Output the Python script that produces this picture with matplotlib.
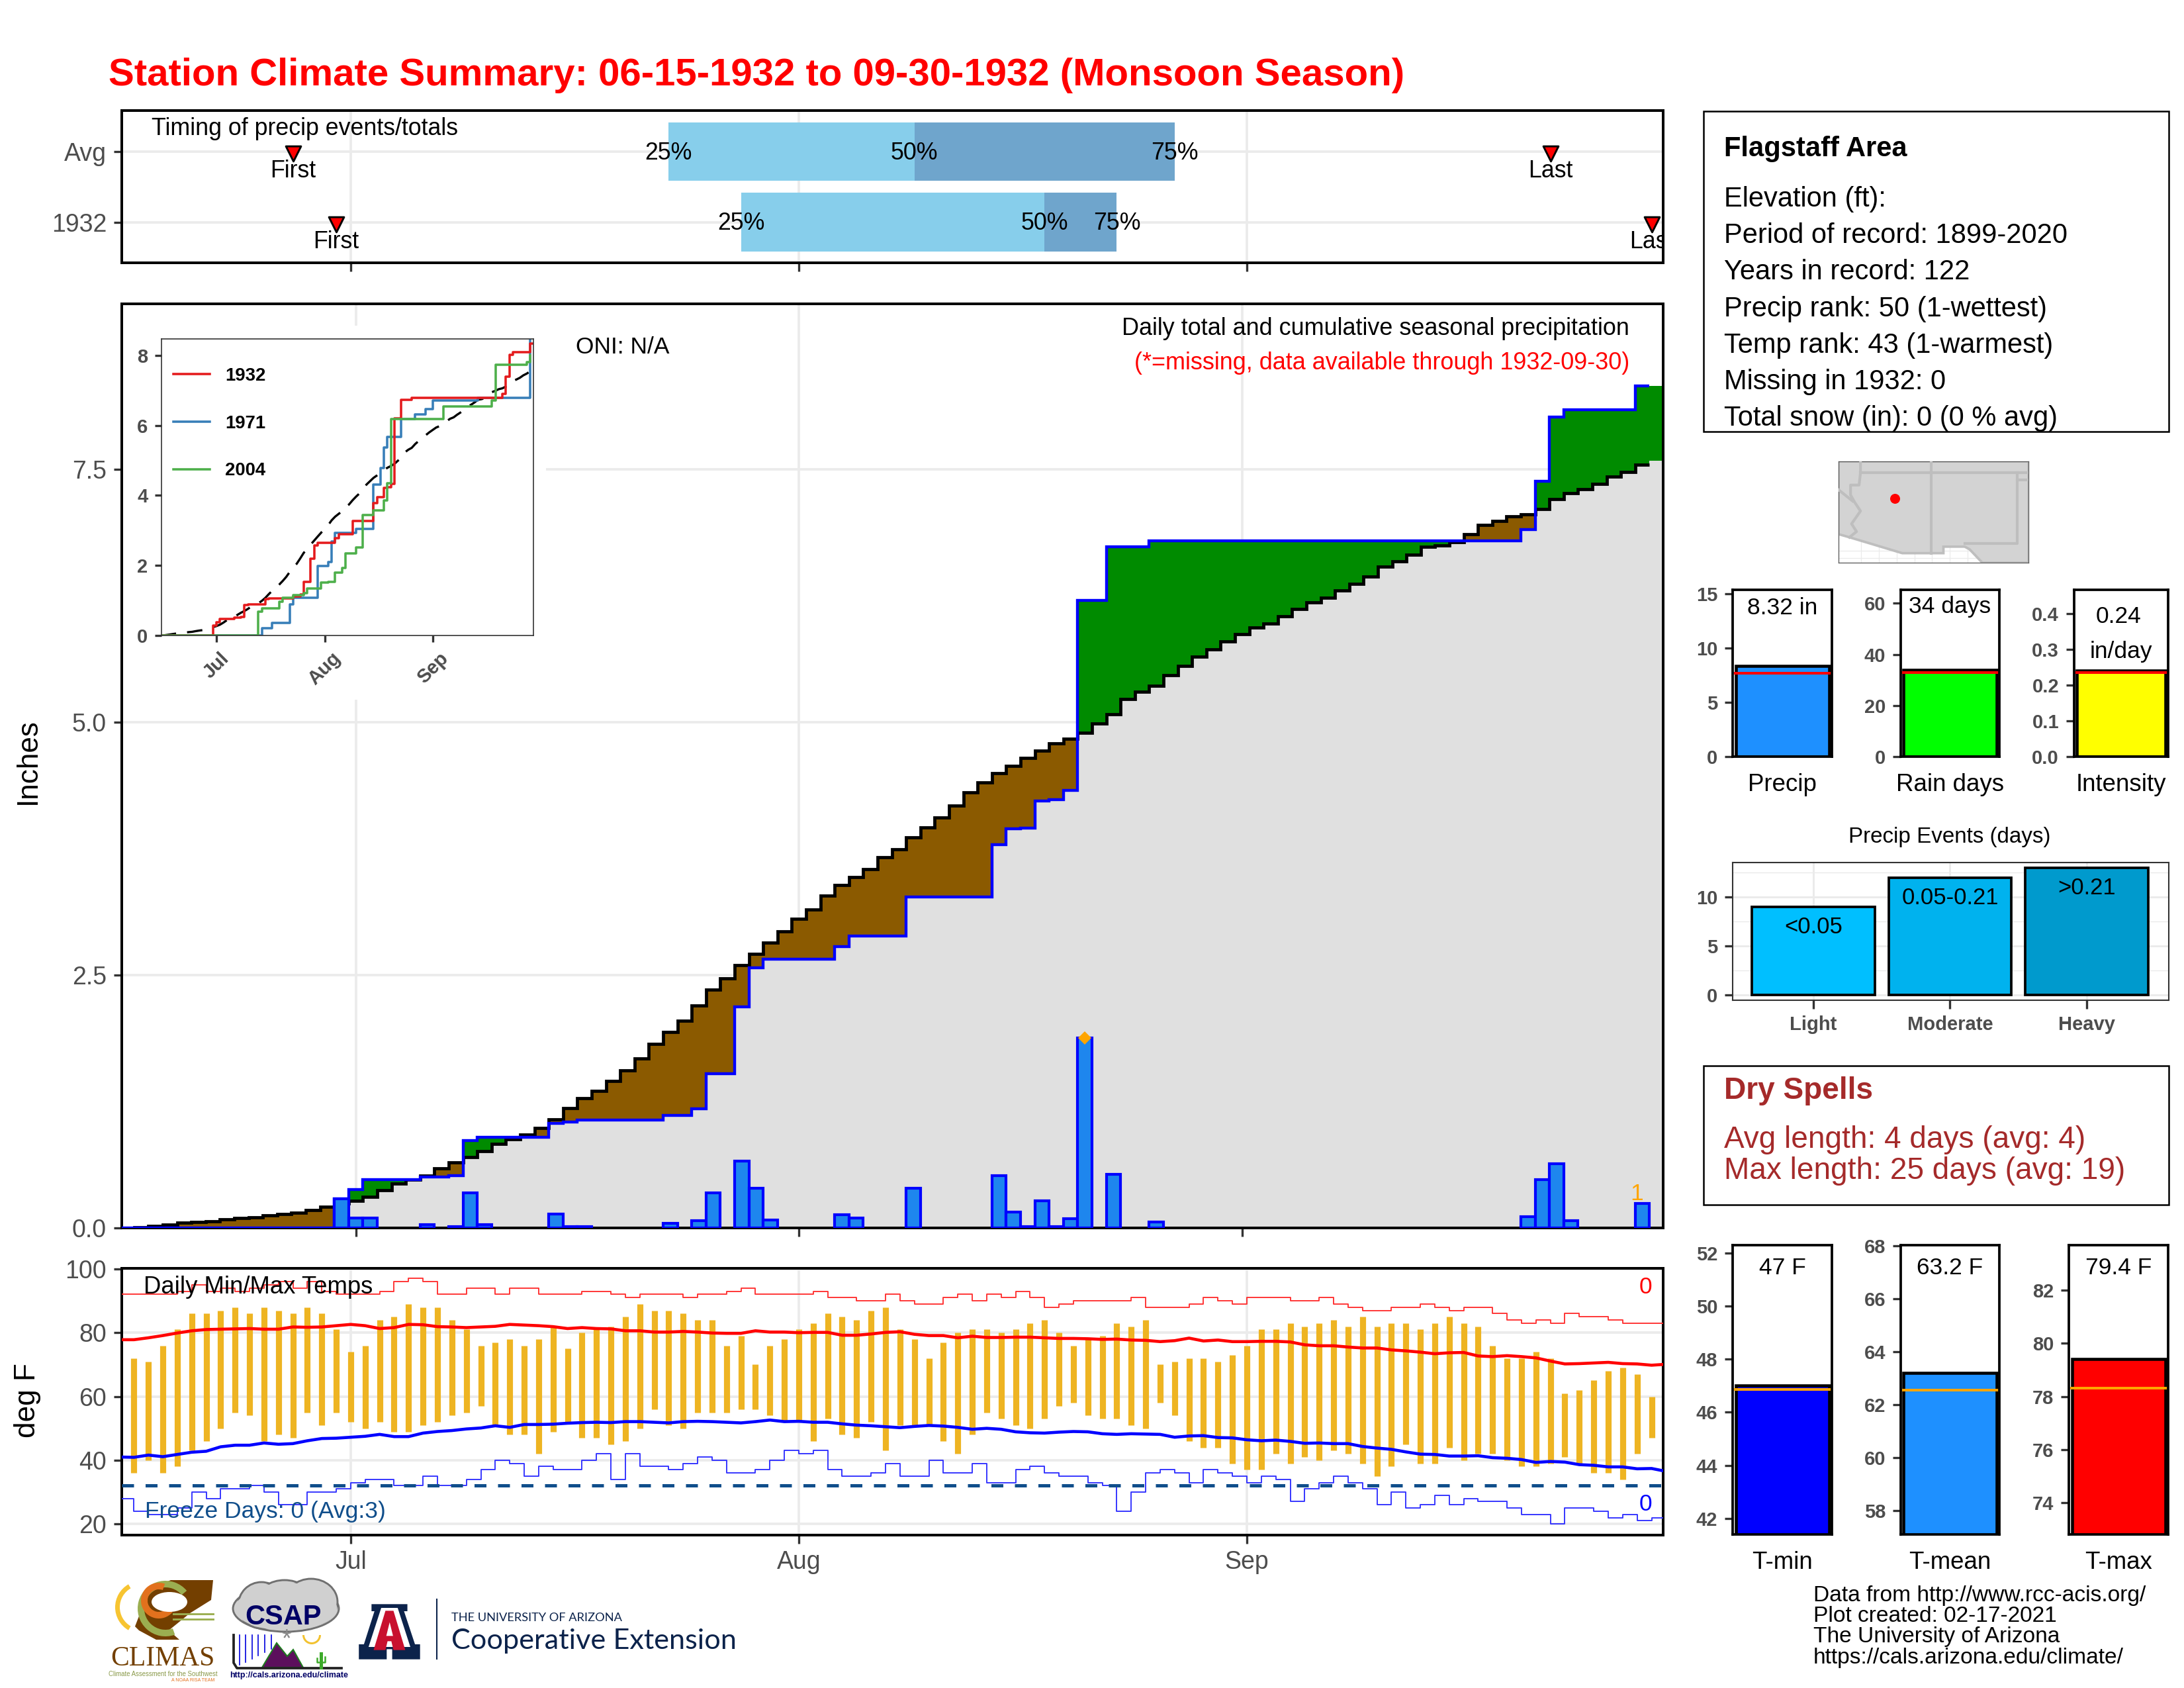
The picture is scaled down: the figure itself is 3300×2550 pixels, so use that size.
#!/usr/bin/python
# -*- coding: utf-8 -*-
"""Station climate summary, Flagstaff monsoon season 1932"""

import numpy as np
import matplotlib
matplotlib.use('Agg')
import matplotlib.pyplot as plt
from matplotlib.lines import Line2D
from matplotlib.patches import Ellipse, Polygon, Rectangle, Wedge

W, H = 3300, 2550
GRAY_TXT = '#4D4D4D'
GRID = '#EBEBEB'

# day numbers count from Jun 15
MONTH_DAYS = [16, 47, 78]
MONTH_NAMES = ['Jul', 'Aug', 'Sep']

# daily precip (inches), only the days with rain
RAIN_DAYS = [15, 16, 17, 21, 23, 24, 25, 30, 31, 32, 38, 40, 41, 43, 44, 45, 50, 51, 55,
             61, 62, 63, 64, 65, 66, 67, 69, 72, 98, 99, 100, 101, 106]
RAIN_AMOUNTS = [.285, .095, .095, .03, .015, .345, .03, .14, .015, .015, .045, .07, .345,
                .66, .39, .08, .13, .10, .39, .515, .155, .01, .27, .01, .09, 1.88, .53,
                .06, .11, .48, .635, .07, .24]

# long term average cumulative precip, one value per day
AVG_CUM = [0, .005, .02, .035, .05, .058, .068, .085, .096, .105, .124, .14, .153, .18, .21,
           .24, .27, .31, .37, .44, .48, .52, .59, .65, .70, .76, .83, .88, .92, .99,
           1.075, 1.183, 1.28, 1.358, 1.456, 1.56, 1.675, 1.817, 1.937, 2.05, 2.2, 2.36, 2.47, 2.596, 2.71,
           2.825, 2.936, 3.056, 3.148, 3.288, 3.392, 3.471, 3.547, 3.665, 3.742, 3.86, 3.964, 4.058, 4.178, 4.31,
           4.405, 4.50, 4.57, 4.648, 4.72, 4.79, 4.84, 4.90, 4.99, 5.08, 5.23, 5.305, 5.36, 5.47, 5.556, 5.648,
           5.72, 5.80, 5.87, 5.94, 5.98, 6.05, 6.12, 6.19, 6.23, 6.305, 6.37, 6.44, 6.54, 6.59, 6.656, 6.735,
           6.75, 6.78, 6.86, 6.95, 6.99, 7.036, 7.06, 7.11, 7.21, 7.27, 7.31, 7.36, 7.43, 7.48, 7.55, 7.59]

# comparison years for the small panel
Y1971_DAYS = [0, 29, 32, 37, 38, 45, 48, 49, 50, 56, 61, 63, 64, 65, 69, 73, 76, 78, 91, 106]
Y1971_CUM = [0, .2, .36, .88, 1.08, 1.99, 2.1, 2.69, 2.93, 3.04, 4.31, 4.79, 5.37, 5.68, 6.19,
             6.32, 6.47, 6.72, 6.78, 8.7]
Y2004_DAYS = [0, 28, 29, 34, 35, 38, 41, 42, 46, 48, 50, 52, 53, 56, 58, 61, 64, 65, 66, 81, 95, 96, 105, 106]
Y2004_CUM = [0, .69, .78, .96, 1.07, 1.15, 1.21, 1.35, 1.51, 1.54, 1.79, 1.92, 2.35, 2.51, 3.44,
             3.58, 3.86, 4.34, 6.19, 6.55, 6.72, 7.74, 7.80, 7.99]

# daily temps, Jun 16 to Sep 29
TMAX_DAILY = [72, 71, 76, 81, 86, 86, 87, 88, 86, 88, 87, 86, 88, 86, 81, 74, 76, 84, 85, 89, 88, 88, 84, 81, 76, 77,
              78, 76, 78, 82, 75, 80, 81, 82, 85, 89, 87, 87, 86, 84, 84, 76, 79, 70, 76, 78, 81, 83, 86, 85, 84, 87, 88,
              81, 78, 72, 77, 80, 81, 81, 80, 81, 83, 84, 80, 76, 78, 79, 83, 82, 84, 70, 71, 72, 72, 71, 73, 76, 81,
              81, 83, 82, 83, 84, 82, 85, 82, 83, 83, 81, 83, 85, 83, 82, 76, 72, 72, 74, 72, 61, 62, 65, 68, 69, 67, 60]
TMIN_DAILY = [36, 40, 36, 38, 43, 46, 50, 55, 54, 46, 48, 47, 55, 51, 55, 52, 50, 52, 49, 49, 51, 52, 54, 55, 57, 51,
              48, 48, 42, 49, 52, 47, 47, 45, 46, 50, 56, 51, 50, 55, 55, 55, 56, 56, 54, 52, 52, 46, 53, 48, 47, 52, 43,
              51, 51, 51, 46, 42, 48, 55, 53, 51, 50, 53, 57, 58, 54, 53, 53, 51, 50, 58, 54, 46, 44, 44, 39, 37, 37,
              42, 39, 41, 40, 43, 42, 39, 35, 38, 45, 39, 39, 44, 40, 42, 42, 40, 38, 38, 39, 41, 39, 36, 36, 34, 42, 47]

# smoothed daily normals
TMAX_AVG = [77.8, 77.8, 78.4, 79.1, 79.9, 80.6, 81.0, 81.1, 81.2, 81.3,
            81.1, 81.1, 81.8, 81.7, 81.8, 82.2, 82.6, 82.2, 81.3, 81.6,
            82.6, 82.5, 81.9, 81.8, 81.6, 81.8, 82.0, 82.6, 82.4, 82.2,
            81.9, 81.3, 81.6, 81.3, 81.2, 80.6, 80.6, 80.2, 80.2, 80.4,
            80.2, 79.9, 79.8, 79.8, 80.6, 80.2, 80.2, 80.0, 80.1, 80.1,
            79.2, 79.2, 79.6, 80.1, 80.3, 79.5, 79.1, 79.1, 78.4, 78.9,
            78.5, 78.5, 78.6, 78.6, 78.4, 78.2, 78.2, 78.1, 77.9, 78.0,
            77.7, 77.6, 77.2, 77.5, 78.3, 77.4, 77.7, 77.2, 77.2, 77.3,
            77.3, 77.1, 76.2, 75.9, 75.9, 75.5, 75.2, 75.2, 74.6, 74.3,
            73.9, 73.4, 73.7, 73.8, 72.7, 72.5, 72.8, 72.5, 72.1, 71.1,
            70.2, 70.3, 70.5, 70.7, 70.3, 70.2, 69.8, 70.1]
TMIN_AVG = [41.0, 40.9, 41.6, 41.1, 41.8, 42.5, 42.8, 44.2, 44.7, 44.7,
            45.4, 45.0, 45.2, 46.1, 46.8, 46.9, 47.2, 47.5, 48.1, 47.4,
            47.4, 48.5, 49.0, 49.3, 49.8, 50.1, 50.8, 50.3, 51.2, 51.2,
            51.3, 51.6, 51.8, 51.9, 51.8, 52.1, 52.1, 51.9, 51.7, 52.1,
            52.2, 52.1, 51.9, 51.7, 52.1, 52.6, 52.1, 52.2, 51.9, 51.9,
            51.4, 51.0, 50.8, 50.5, 50.2, 50.6, 50.9, 50.7, 50.3, 49.7,
            50.0, 49.7, 48.9, 48.6, 48.5, 48.8, 49.0, 48.9, 48.3, 48.1,
            48.3, 48.2, 48.1, 47.2, 47.6, 47.7, 47.1, 47.0, 46.4, 46.1,
            46.3, 45.9, 45.3, 45.4, 45.2, 45.2, 44.3, 43.8, 43.4, 42.6,
            41.9, 41.8, 41.3, 41.3, 41.4, 40.8, 40.6, 40.2, 39.3, 39.6,
            39.4, 38.6, 38.4, 37.9, 37.9, 37.3, 37.4, 36.5]

# daily records
RECORD_HIGH = [92, 92, 92, 92, 93, 95, 93, 94, 93, 94, 95, 96, 94, 96, 93, 92, 92, 92, 93, 96,
               97, 96, 92, 92, 94, 94, 92, 94, 94, 92, 92, 92, 93, 93, 92, 91, 92, 92, 92, 91,
               92, 92, 93, 94, 92, 92, 92, 92, 93, 91, 91, 90, 90, 92, 90, 89, 89, 91, 92, 90,
               92, 91, 93, 91, 88, 89, 90, 90, 90, 90, 91, 88, 88, 88, 89, 91, 90, 89, 91, 91,
               91, 90, 90, 91, 89, 88, 87, 87, 88, 88, 89, 88, 87, 88, 88, 86, 84, 83, 84, 83,
               86, 85, 85, 84, 83, 83, 83, 83]
RECORD_LOW = [28, 24, 23, 23, 25, 30, 28, 31, 31, 32, 30, 26, 26, 30, 30, 31, 33, 34, 34, 32,
              32, 35, 32, 32, 34, 37, 40, 39, 35, 38, 37, 37, 40, 42, 34, 42, 38, 38, 37, 39,
              41, 40, 36, 36, 37, 40, 43, 42, 43, 37, 35, 35, 36, 39, 35, 35, 40, 36, 36, 39,
              33, 33, 37, 38, 36, 35, 35, 33, 32, 24, 30, 36, 37, 36, 33, 37, 36, 35, 33, 35,
              34, 27, 31, 33, 35, 33, 31, 26, 30, 25, 26, 29, 26, 28, 27, 27, 25, 23, 23, 20,
              25, 25, 24, 22, 23, 21, 22, 22]

# timing panel, rows are year and average
TIMING_ROWS = ['1932', 'Avg']
TIMING_Q25 = [43, 38]
TIMING_Q50 = [64, 55]
TIMING_Q75 = [69, 73]
TIMING_FIRST = [15, 12]
TIMING_LAST = [106, 99]

# season summaries
SUMMARY_NAMES = ['Precip', 'Rain days', 'Intensity']
SUMMARY_VALUES = [8.32, 34, 0.24]
SUMMARY_NORMALS = [7.7, 33, 0.235]
EVENT_NAMES = ['Light', 'Moderate', 'Heavy']
EVENT_DAYS = [9, 12, 13]
EVENT_BINS = ['<0.05', '0.05-0.21', '>0.21']
TEMP_NAMES = ['T-min', 'T-mean', 'T-max']
TEMP_VALUES = [47, 63.2, 79.4]
TEMP_NORMALS = [46.85, 62.55, 78.3]

# rough state lines for the locator map
US_LON = [-115.6, -114.83, -111.1, -108.2, -108.2, -106.7, -106.35, -105.46, -102.2, -102.2, -115.6]
US_LAT = [32.67, 32.45, 31.33, 31.33, 31.79, 31.79, 31.6, 30.66, 30.66, 37.8, 37.8]
AZ_WEST_LON = [-114.05, -114.05, -114.15, -114.75, -114.75, -114.45, -114.05, -114.68, -114.33, -114.83]
AZ_WEST_LAT = [37.8, 37.0, 36.13, 36.13, 35.43, 34.9, 34.3, 33.4, 32.85, 32.45]
CA_NV_LON = [-115.6, -114.6]
CA_NV_LAT = [35.8, 35.0]
STATION_LON = -111.62
STATION_LAT = 35.18

plt.rcParams['font.family'] = ['Liberation Sans', 'DejaVu Sans']


def panel(left, top, right, bottom):
    """Axes placed by its pixel box"""
    return fig.add_axes([left / W, 1 - bottom / H, (right - left) / W, (bottom - top) / H])


def px_text(x, y, txt, **kwargs):
    """Figure text placed by pixel position"""
    kwargs.setdefault('va', 'center')
    return fig.text(x / W, 1 - (y + 12) / H, txt, **kwargs)


def style_axes(axes, spine=0.96, tick_len=3.0, tick_size=9, bold=False):
    for side in axes.spines.values():
        side.set_linewidth(spine)
        side.set_color('black')
    axes.tick_params(length=tick_len, width=0.8, color='#333333', labelsize=tick_size,
                     labelcolor=GRAY_TXT, pad=2.5)
    if bold:
        for lab in axes.get_xticklabels() + axes.get_yticklabels():
            lab.set_fontweight('bold')
    axes.set_axisbelow(True)


def summary_bar(axes, value, normal, color, line_color, label, ymin, ymax, ticks, ticklabels):
    axes.bar([0], [value], width=0.94, color=color, edgecolor='black', linewidth=1.1)
    axes.plot([-0.49, 0.49], [normal, normal], color=line_color, linewidth=0.95, solid_capstyle='butt')
    axes.set_xlim(-0.5, 0.5)
    axes.set_ylim(ymin, ymax)
    axes.set_xticks([])
    axes.set_yticks(ticks)
    axes.set_yticklabels(ticklabels)
    style_axes(axes, spine=0.9, tick_len=3.0, tick_size=7, bold=True)
    axes.set_xlabel(label, fontsize=8.8, labelpad=6)


def ua_points(pairs):
    """Logo outline given in a local grid, moved to figure pixels"""
    return [(150 + zx / 1.568, 2334 + zy / 3) for zx, zy in pairs]


fig = plt.figure(figsize=(11, 8.5), dpi=300)

days = np.arange(108)
rain = np.zeros(108)
rain[RAIN_DAYS] = RAIN_AMOUNTS
obs_cum = np.cumsum(rain)
avg_cum = np.array(AVG_CUM)
low_cum = np.minimum(obs_cum, avg_cum)
edges = np.arange(109) - 0.5

px_text(164, 102, 'Station Climate Summary: 06-15-1932 to 09-30-1932 (Monsoon Season)',
        color='red', fontsize=13.95, fontweight='bold')

# timing panel
ax_top = panel(184, 167, 2513, 397)
rows = np.arange(1, 3)
ax_top.barh(rows, np.array(TIMING_Q50) - np.array(TIMING_Q25), left=TIMING_Q25, height=0.83,
            color='#87CEEB', zorder=2)
ax_top.barh(rows, np.array(TIMING_Q75) - np.array(TIMING_Q50), left=TIMING_Q50, height=0.83,
            color='#6FA5CC', zorder=2)
ax_top.scatter(TIMING_FIRST, rows - 0.03, marker='v', s=30, color='red', edgecolor='black', linewidth=0.7, zorder=3)
ax_top.scatter(TIMING_LAST, rows - 0.03, marker='v', s=30, color='red', edgecolor='black', linewidth=0.7, zorder=3)
for row, q25, q50, q75, first, last in zip(rows, TIMING_Q25, TIMING_Q50, TIMING_Q75, TIMING_FIRST, TIMING_LAST):
    for pos, lab in zip((q25, q50, q75), ('25%', '50%', '75%')):
        ax_top.text(pos, row - 0.02, lab, ha='center', va='center', fontsize=8.6, zorder=4)
    ax_top.text(first, row - 0.28, 'First', ha='center', va='center', fontsize=8.6, zorder=4)
    ax_top.text(last, row - 0.28, 'Last', ha='center', va='center', fontsize=8.6, zorder=4, clip_on=True)
ax_top.set_xlim(0.16, 106.8)
ax_top.set_ylim(0.4255, 2.58)
ax_top.set_xticks(MONTH_DAYS)
ax_top.set_xticklabels([])
ax_top.set_yticks(rows)
ax_top.set_yticklabels(TIMING_ROWS)
ax_top.grid(color=GRID, linewidth=0.9)
style_axes(ax_top)
px_text(229, 182, 'Timing of precip events/totals', fontsize=8.6)

# main precip panel
ax_main = panel(184, 459, 2513, 1855)
ax_main.add_patch(Rectangle((186 / W, 1 - 1057 / H), 639 / W, 565 / H, transform=fig.transFigure,
                            facecolor='white', edgecolor='none', zorder=1))
ax_main.fill_between(edges, 0, np.append(low_cum, low_cum[-1]), step='post', color='#E0E0E0', linewidth=0, zorder=2)
ax_main.fill_between(edges, np.append(low_cum, low_cum[-1]), np.append(avg_cum, avg_cum[-1]), step='post',
                     color='#8B5A00', linewidth=0, zorder=2)
ax_main.fill_between(edges, np.append(low_cum, low_cum[-1]), np.append(obs_cum, obs_cum[-1]), step='post',
                     color='#008B00', linewidth=0, zorder=2)
ax_main.stairs(avg_cum[:107], edges[:108], baseline=None, color='black', linewidth=1.15, zorder=3)
ax_main.stairs(obs_cum[:107], edges[:108], baseline=None, color='#0000FF', linewidth=1.05, zorder=4)
rain_on = rain > 0
ax_main.bar(days[rain_on], rain[rain_on], width=1.0, color='#1E86EE', edgecolor='#0000FF', linewidth=1.0, zorder=5)
wettest = int(np.argmax(rain))
ax_main.plot([wettest], [rain[wettest]], marker='D', markersize=3.4, color='orange', markeredgewidth=0, zorder=6)
ax_main.text(105.6, 0.34, '1', color='orange', fontsize=8.5, ha='center', va='center', zorder=6)
ax_main.set_xlim(-0.37, 107.45)
ax_main.set_ylim(0, 9.14)
ax_main.set_xticks(MONTH_DAYS)
ax_main.set_xticklabels([])
ax_main.set_yticks([0, 2.5, 5, 7.5])
ax_main.set_yticklabels(['0.0', '2.5', '5.0', '7.5'])
ax_main.grid(color=GRID, linewidth=0.9)
style_axes(ax_main)
for art in ax_main.get_xgridlines() + ax_main.get_ygridlines():
    art.set_zorder(0.5)
px_text(42, 1138, 'Inches', rotation=90, ha='center', fontsize=10.6)
px_text(870, 512, 'ONI: N/A', fontsize=8.5)
px_text(2462, 485, 'Daily total and cumulative seasonal precipitation', ha='right', fontsize=8.63)
px_text(2462, 537, '(*=missing, data available through 1932-09-30)', ha='right', color='red', fontsize=8.63)

# small panel with other years
ax_in = panel(244, 512, 806, 960)
ax_in.plot(days, avg_cum, color='black', linewidth=0.8, dashes=(7, 5))
ax_in.step(Y1971_DAYS, Y1971_CUM, where='post', color='#377EB8', linewidth=0.85)
ax_in.step(days, obs_cum, where='post', color='#E41A1C', linewidth=0.85)
ax_in.step(Y2004_DAYS, Y2004_CUM, where='post', color='#4DAF4A', linewidth=0.85)
ax_in.set_xlim(0.2, 106.9)
ax_in.set_ylim(0, 8.47)
ax_in.set_xticks(MONTH_DAYS)
ax_in.set_xticklabels(MONTH_NAMES, rotation=45, ha='center')
ax_in.set_yticks([0, 2, 4, 6, 8])
style_axes(ax_in, spine=0.4, tick_len=2.4, tick_size=7, bold=True)
for side in ax_in.spines.values():
    side.set_color('#333333')
leg = ax_in.legend(handles=[Line2D([], [], color='#E41A1C', linewidth=0.85, label='1932'),
                            Line2D([], [], color='#377EB8', linewidth=0.85, label='1971'),
                            Line2D([], [], color='#4DAF4A', linewidth=0.85, label='2004')],
                   loc='upper left', bbox_to_anchor=(0.007, 0.935), frameon=False,
                   prop={'size': 6.6, 'weight': 'bold'},
                   handlelength=2.0, handletextpad=0.85, labelspacing=1.66,
                   borderaxespad=0, borderpad=0.5)

# temperature panel
ax_temp = panel(184, 1916, 2513, 2319)
temp_days = np.arange(1, 107)
ax_temp.vlines(temp_days, TMIN_DAILY, TMAX_DAILY, color='#EEB422', linewidth=2.2, zorder=2)
ax_temp.step(days, RECORD_HIGH, where='post', color='#FF3030', linewidth=0.45, zorder=3)
ax_temp.step(days, RECORD_LOW, where='post', color='#3030FF', linewidth=0.45, zorder=3)
ax_temp.plot(days, TMAX_AVG, color='red', linewidth=1.1, zorder=4)
ax_temp.plot(days, TMIN_AVG, color='blue', linewidth=1.1, zorder=4)
ax_temp.axhline(32, color='#104E8B', linewidth=1.2, dashes=(3.6, 3.5), zorder=4)
ax_temp.set_xlim(0.16, 106.8)
ax_temp.set_ylim(16.5, 100.2)
ax_temp.set_xticks(MONTH_DAYS)
ax_temp.set_xticklabels(MONTH_NAMES)
ax_temp.set_yticks([20, 40, 60, 80, 100])
ax_temp.grid(color=GRID, linewidth=0.9)
style_axes(ax_temp)
px_text(42, 2104, 'deg F', rotation=90, ha='center', fontsize=10.6)
px_text(217, 1933, 'Daily Min/Max Temps', fontsize=8.75)
px_text(219, 2272, 'Freeze Days: 0 (Avg:3)', color='#104E8B', fontsize=8.5)
px_text(2486, 1932, '0', color='red', ha='center', fontsize=8.5)
px_text(2486, 2261, '0', color='blue', ha='center', fontsize=8.5)

# station box
ax_box = fig.add_axes([0, 0, 1, 1], zorder=-1)
ax_box.set_xlim(0, W)
ax_box.set_ylim(H, 0)
ax_box.axis('off')
ax_box.add_patch(Rectangle((2574, 168), 703, 484, facecolor='white', edgecolor='black', linewidth=0.6))
ax_box.add_patch(Rectangle((2574, 1610), 703, 210, facecolor='white', edgecolor='black', linewidth=0.6))
px_text(2605, 213, 'Flagstaff Area', fontsize=10, fontweight='bold')
INFO_LINES = ['Elevation (ft):', 'Period of record: 1899-2020', 'Years in record: 122',
              'Precip rank: 50 (1-wettest)', 'Temp rank: 43 (1-warmest)', 'Missing in 1932: 0',
              'Total snow (in): 0 (0 % avg)']
for num, line in enumerate(INFO_LINES):
    px_text(2605, 289 + 55.2 * num, line, fontsize=10)

# locator map
ax_map = panel(2778, 697, 3065, 850)
map_line = dict(color='#BEBEBE', linewidth=1.0, zorder=3)
ax_map.add_patch(Polygon(np.column_stack([US_LON, US_LAT]), facecolor='#D3D3D3', edgecolor='#BEBEBE', linewidth=0.9, zorder=2))
ax_map.plot(AZ_WEST_LON, AZ_WEST_LAT, **map_line)
ax_map.plot(CA_NV_LON, CA_NV_LAT, **map_line)
ax_map.plot([-114.05, -102.2], [37, 37], **map_line)
ax_map.plot([-109.05, -109.05], [37.8, 31.33], **map_line)
ax_map.plot([-103.0, -103.0, -106.7], [37, 32, 32], **map_line)
ax_map.plot([-103.0, -102.2], [36.5, 36.5], **map_line)
ax_map.plot([STATION_LON], [STATION_LAT], 'o', color='red', markersize=3.6, markeredgewidth=0, zorder=4)
ax_map.set_xlim(-115.6, -102.2)
ax_map.set_ylim(30.66, 37.8)
ax_map.set_xticks(np.arange(-114, -103, 1.25))
ax_map.set_yticks([31, 31.5])
ax_map.tick_params(length=0, labelbottom=False, labelleft=False)
ax_map.grid(color=GRID, linewidth=0.3)
for side in ax_map.spines.values():
    side.set_linewidth(0.3)
    side.set_color('#555555')

# precip summary bars
ax_p = panel(2618, 891, 2768, 1143)
summary_bar(ax_p, SUMMARY_VALUES[0], SUMMARY_NORMALS[0], '#1E90FF', 'red', SUMMARY_NAMES[0],
            0, 15.35, [0, 5, 10, 15], ['0', '5', '10', '15'])
ax_p.text(0, 13.7, '8.32 in', ha='center', va='center', fontsize=8.5)
ax_r = panel(2872, 891, 3021, 1143)
summary_bar(ax_r, SUMMARY_VALUES[1], SUMMARY_NORMALS[1], '#00FF00', 'red', SUMMARY_NAMES[1],
            0, 65.3, [0, 20, 40, 60], ['0', '20', '40', '60'])
ax_r.text(0, 58.6, '34 days', ha='center', va='center', fontsize=8.5)
ax_i = panel(3134, 891, 3276, 1143)
summary_bar(ax_i, SUMMARY_VALUES[2], SUMMARY_NORMALS[2], '#FFFF00', 'red', SUMMARY_NAMES[2],
            0, 0.467, [0, .1, .2, .3, .4], ['0.0', '0.1', '0.2', '0.3', '0.4'])
ax_i.text(-0.03, 0.392, '0.24', ha='center', va='center', fontsize=8.5)
ax_i.text(0, 0.294, 'in/day', ha='center', va='center', fontsize=8.5)

# precip events
px_text(2946, 1253, 'Precip Events (days)', ha='center', fontsize=7.95)
ax_ev = panel(2618, 1303, 3277, 1511)
event_colors = ['#00BFFF', '#00B2EE', '#009ACD']
ax_ev.bar(np.arange(3), EVENT_DAYS, width=0.9, color=event_colors, edgecolor='black', linewidth=0.9, zorder=2)
for pos, days_n, lab in zip(range(3), EVENT_DAYS, EVENT_BINS):
    ax_ev.text(pos, days_n - 2.05, lab, ha='center', va='center', fontsize=8.3, zorder=3)
ax_ev.set_xlim(-0.59, 2.6)
ax_ev.set_ylim(-0.55, 13.55)
ax_ev.set_xticks(np.arange(3))
ax_ev.set_xticklabels(EVENT_NAMES)
ax_ev.set_yticks([0, 5, 10])
ax_ev.set_yticks([2.5, 7.5, 12.5], minor=True)
ax_ev.grid(color=GRID, linewidth=0.7)
ax_ev.grid(which='minor', axis='y', color=GRID, linewidth=0.35)
style_axes(ax_ev, spine=0.5, tick_len=3.0, tick_size=7, bold=True)
ax_ev.tick_params(which='minor', length=0)
for side in ax_ev.spines.values():
    side.set_color('#333333')

# dry spells
px_text(2605, 1636, 'Dry Spells', color='#A52A2A', fontsize=11.05, fontweight='bold')
px_text(2605, 1710, 'Avg length: 4 days (avg: 4)', color='#A52A2A', fontsize=11.05)
px_text(2605, 1757, 'Max length: 25 days (avg: 19)', color='#A52A2A', fontsize=11.05)

# temperature summary bars
ax_t1 = panel(2618, 1881, 2768, 2318)
summary_bar(ax_t1, TEMP_VALUES[0], TEMP_NORMALS[0], '#0000FF', 'orange', TEMP_NAMES[0],
            41.4, 52.29, [42, 44, 46, 48, 50, 52], ['42', '44', '46', '48', '50', '52'])
ax_t1.text(0, 51.42, '47 F', ha='center', va='center', fontsize=8.5)
ax_t2 = panel(2872, 1881, 3021, 2318)
summary_bar(ax_t2, TEMP_VALUES[1], TEMP_NORMALS[1], '#1E90FF', 'orange', TEMP_NAMES[1],
            57.1, 68.02, [58, 60, 62, 64, 66, 68], ['58', '60', '62', '64', '66', '68'])
ax_t2.text(0, 67.15, '63.2 F', ha='center', va='center', fontsize=8.5)
ax_t3 = panel(3126, 1881, 3276, 2318)
summary_bar(ax_t3, TEMP_VALUES[2], TEMP_NORMALS[2], '#FF0000', 'orange', TEMP_NAMES[2],
            72.8, 83.7, [74, 76, 78, 80, 82], ['74', '76', '78', '80', '82'])
ax_t3.text(0, 82.85, '79.4 F', ha='center', va='center', fontsize=8.5)

# credits
FOOT_LINES = ['Data from http://www.rcc-acis.org/', 'Plot created: 02-17-2021',
              'The University of Arizona', 'https://cals.arizona.edu/climate/']
for pos, line in zip([2398, 2429, 2460, 2493], FOOT_LINES):
    px_text(2740, pos, line, fontsize=8.05)

# logos are rebuilt from plain shapes and text
BROWN = '#733F00'
NAVY = '#0C234B'
ax_box.add_patch(Polygon([(258, 2387), (322, 2387), (319, 2417), (287, 2437), (255, 2463), (271, 2477),
                          (236, 2477), (210, 2463), (204, 2457), (226, 2400)], facecolor=BROWN, edgecolor='none'))
ax_box.add_patch(Wedge((250, 2430), 42, 70, 320, width=10, facecolor='#9BAE50', edgecolor='none'))
ax_box.add_patch(Wedge((240, 2418), 27, 40, 290, width=10, facecolor='#E2711D', edgecolor='none'))
ax_box.add_patch(Ellipse((256, 2420), 54, 30, facecolor='white', edgecolor='none'))
ax_box.add_patch(Wedge((214, 2428), 40, 120, 240, width=7, facecolor='#F7C431', edgecolor='none'))
ax_box.plot([262, 322], [2438, 2438], color='#9BAE50', linewidth=0.7)
ax_box.plot([262, 322], [2446, 2446], color='#9BAE50', linewidth=0.7)
px_text(246, 2494, 'CLIMAS', color=BROWN, ha='center', fontsize=10, family='Liberation Serif')
px_text(246, 2517, 'Climate Assessment for the Southwest', color='#8A9A4A', ha='center', fontsize=2.3)
px_text(292, 2526, 'A NOAA RISA TEAM', color='#E2711D', ha='center', fontsize=1.7)

for xc, yc, wd, ht in [(432, 2430, 160, 70), (395, 2425, 70, 70), (430, 2415, 80, 56), (470, 2420, 80, 70)]:
    ax_box.add_patch(Ellipse((xc, yc), wd, ht, facecolor='#D0D0D0', edgecolor='#707070', linewidth=0.7))
for xc, yc, wd, ht in [(432, 2430, 155, 66), (395, 2425, 66, 66), (430, 2415, 76, 52), (470, 2420, 76, 66)]:
    ax_box.add_patch(Ellipse((xc, yc), wd, ht, facecolor='#D0D0D0', edgecolor='none'))
px_text(428, 2431, 'CSAP', color='#000066', ha='center', fontsize=10, fontweight='bold')
for xc in [362, 371, 381, 390, 400, 410]:
    ax_box.plot([xc, xc], [2470, 2515 - (xc - 362) * 0.5], color='#0000DD', linewidth=0.4)
ax_box.plot([353, 353, 358, 516], [2470, 2512, 2520, 2520], color='#222222', linewidth=0.9)
ax_box.add_patch(Polygon([(396, 2519), (418, 2482), (434, 2502), (443, 2492), (458, 2519)],
                         facecolor='#5C0F5C', edgecolor='#1E7B1E', linewidth=0.5))
ax_box.plot([485, 485], [2498, 2519], color='#3DAA2A', linewidth=1.2)
ax_box.plot([479, 479, 491, 491], [2505, 2511, 2511, 2503], color='#3DAA2A', linewidth=0.6)
ax_box.add_patch(Wedge((471, 2470), 14, 0, 180, width=3, facecolor='#F2C230', edgecolor='none'))
px_text(433, 2465, '*', color='#888888', ha='center', fontsize=9)
px_text(437, 2519, 'http://cals.arizona.edu/climate', color='#000066', ha='center', fontsize=3.0, fontweight='bold')

ax_box.add_patch(Polygon(ua_points([(645, 268), (730, 268), (730, 300), (722, 300), (748, 450), (760, 450),
                                    (760, 518), (694, 518), (694, 472), (681, 472), (681, 518), (615, 518),
                                    (615, 450), (627, 450), (652, 300), (645, 300)]),
                         facecolor=NAVY, edgecolor='none'))
ax_box.add_patch(Polygon(ua_points([(668, 285), (707, 285), (737, 462), (638, 462)]),
                         facecolor='white', edgecolor='none'))
ax_box.add_patch(Polygon(ua_points([(678, 298), (697, 298), (725, 476), (697, 476), (692, 436), (683, 436),
                                    (678, 476), (650, 476)]), facecolor='#C8102E', edgecolor='none'))
ax_box.add_patch(Polygon(ua_points([(688, 350), (696, 412), (680, 412)]), facecolor='white', edgecolor='none'))
ax_box.plot([660, 660], [2416, 2506], color=NAVY, linewidth=0.5)
px_text(682, 2432, 'THE UNIVERSITY OF ARIZONA', color=NAVY, fontsize=4.4, family='Lato')
px_text(682, 2467, 'Cooperative Extension', color=NAVY, fontsize=10.4, family='Lato')

fig.savefig('out.png', dpi=300)
